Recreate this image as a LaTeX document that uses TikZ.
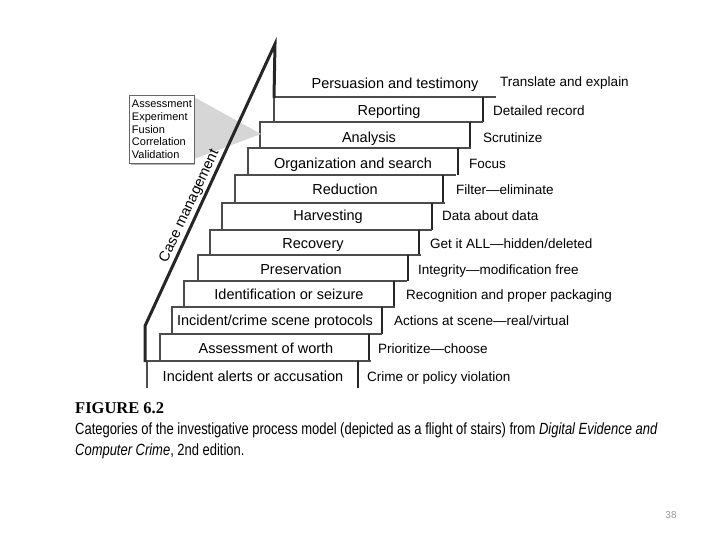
\documentclass[tikz,border=0pt]{standalone}
\usepackage{fontspec}
\setmainfont{Liberation Sans}
\newfontfamily\capfont[FakeStretch=0.8]{Liberation Sans}
\newfontfamily\figfont{Liberation Serif}
\begin{document}
\begin{tikzpicture}[x=1bp,y=-1bp,
  steplbl/.style={anchor=base,inner sep=0pt,font=\fontsize{14.5bp}{16bp}\selectfont},
  notelbl/.style={anchor=base west,inner sep=0pt,font=\fontsize{13.5bp}{16bp}\selectfont},
  stepedge/.style={draw=black!70,line width=1.1bp},
  stepshade/.style={draw=black!85,line width=2.4bp},
  rail/.style={draw=black!85,line width=3bp,line join=miter}]
\useasboundingbox (0,0) rectangle (720,540);
% staircase
\foreach \n/\l/\r/\t/\b/\cx/\ty/\txt/\nx/\note in {
  reporting/274/483/97/122/389/111/Reporting/493/Detailed record,
  analysis/260/470/122/148/369/138/Analysis/483/Scrutinize,
  organization/248/458/148/175/353/163.5/Organization and search/469/Focus,
  reduction/235/443/175/203/345/190/Reduction/456/Filter—eliminate,
  harvesting/222/432/203/230/328/216/Harvesting/442/Data about data,
  recovery/210/419/230/255/313/244/Recovery/430/{Get it ALL—hidden/deleted},
  preservation/198/408/255/281/301/269.5/Preservation/418/Integrity—modification free,
  identification/184/394/281/307/289/294.5/Identification or seizure/406/Recognition and proper packaging,
  protocols/172/382/307/334/275/320.5/{Incident/crime scene protocols}/394/{Actions at scene—real/virtual},
  worth/160/369/334/361/266/348/Assessment of worth/378/Prioritize—choose,
  alerts/147/358/361/388/253/376/Incident alerts or accusation/367/Crime or policy violation}
{
  \draw[stepedge] (\l,\b) -- (\l,\t) -- (\r+13,\t);
  \draw[stepshade] (\r,\t) -- (\r,\b);
  \node[steplbl] (\n) at (\cx,\ty+5) {\txt};
  \node[notelbl] (\n-note) at (\nx,\ty+5) {\note};
}
\node[steplbl] (persuasion) at (395,89) {Persuasion and testimony};
\node[notelbl] (persuasion-note) at (500,87) {Translate and explain};
% analysis callout (wedge under the rail)
\fill[black!16] (194,97) -- (261,134) -- (194,159) -- cycle;
\fill[black!30] (131,97) rectangle (195,165);
\node[draw=black!60,fill=white,line width=0.9bp,anchor=north west,
  minimum width=64bp,minimum height=68bp,inner xsep=2.5bp,align=left,
  font=\fontsize{11bp}{12.6bp}\selectfont] (tasks) at (129,95)
  {Assessment\\Experiment\\Fusion\\Correlation\\Validation};
% case management rail
\draw[rail] (145,362) -- (145,326) -- (275,44) -- (274,98);
\node[rotate=65,anchor=south,inner sep=2.5bp,font=\fontsize{14.5bp}{16bp}\selectfont] (casemgmt) at (198,210) {Case management};
% caption
\node[anchor=west,inner sep=0pt,font=\figfont\bfseries\fontsize{16.5bp}{18bp}\selectfont] (figno) at (75,408) {FIGURE 6.2};
\node[anchor=west,inner sep=0pt,font=\capfont\fontsize{16.2bp}{18bp}\selectfont] (cap1) at (75,430)
  {Categories of the investigative process model (depicted as a flight of stairs) from \textit{Digital Evidence and}};
\node[anchor=west,inner sep=0pt,font=\capfont\fontsize{16.2bp}{18bp}\selectfont] (cap2) at (75,451)
  {\textit{Computer Crime}, 2nd edition.};
\node[text=black!40,font=\fontsize{10bp}{12bp}\selectfont] (pageno) at (671,515) {38};
\end{tikzpicture}
\end{document}
